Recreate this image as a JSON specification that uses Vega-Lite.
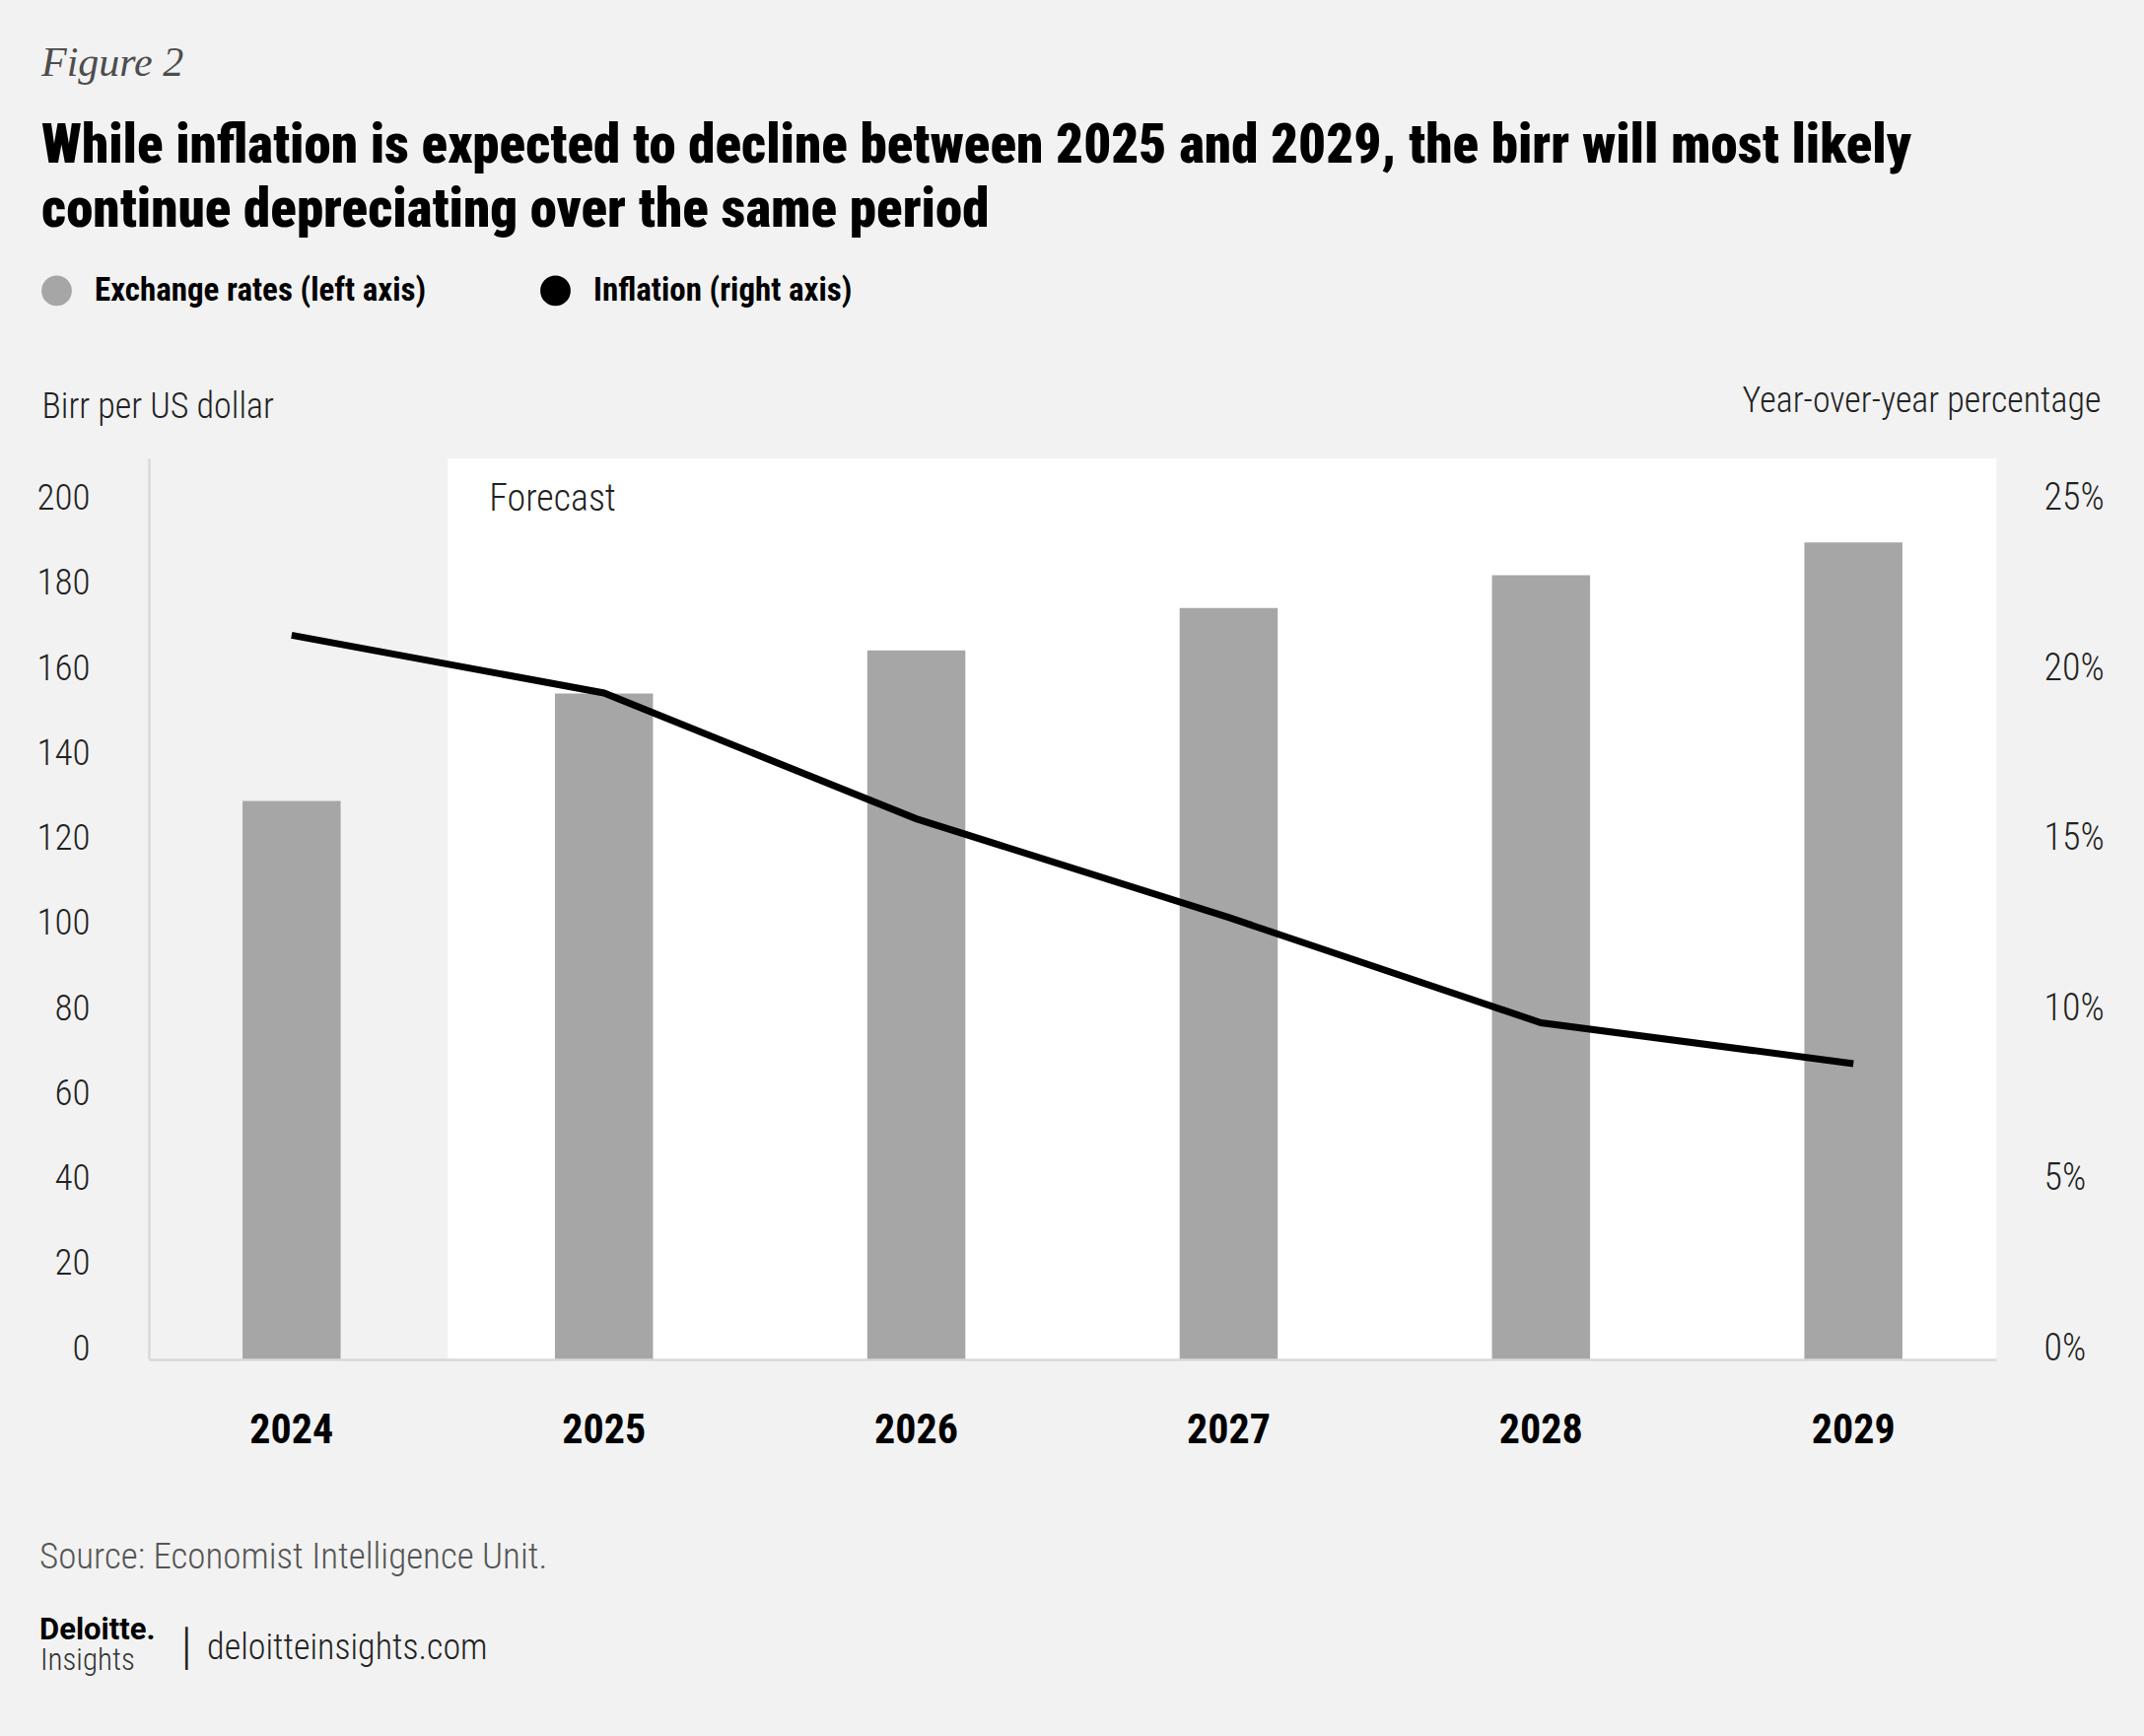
{
  "$schema": "https://vega.github.io/schema/vega-lite/v6.json",
  "width": 1874,
  "height": 914,
  "autosize": {"type": "none"},
  "padding": {"left": 151, "top": 465, "right": 150, "bottom": 382},
  "background": "#f2f2f2",
  "title": {
    "text": "Figure 2",
    "subtitle": ["While inflation is expected to decline between 2025 and 2029, the birr will most likely", "continue depreciating over the same period"],
    "anchor": "start",
    "frame": "group",
    "orient": "top",
    "dx": -109,
    "offset": 36,
    "font": "Liberation Serif",
    "fontStyle": "italic",
    "fontWeight": "normal",
    "fontSize": 42,
    "color": "#4d4d4d",
    "subtitleFont": "Roboto Condensed",
    "subtitleFontWeight": 900,
    "subtitleFontSize": 55,
    "subtitleColor": "#000000",
    "subtitleLineHeight": 65,
    "subtitlePadding": 36
  },
  "config": {
    "view": {"stroke": null},
    "axis": {"grid": false, "ticks": false},
    "axisY": {"domain": false, "labels": false, "titleAngle": 0},
    "axisX": {
      "labelFont": "Roboto Condensed",
      "labelFontSize": 42,
      "labelFontWeight": "bold",
      "labelColor": "#000000",
      "labelPadding": 51,
      "labelAngle": 0,
      "domainColor": "#d9d9d9",
      "domainWidth": 2.5,
      "titleX": -111.5,
      "titleY": 211,
      "titleAlign": "left",
      "titleAnchor": null,
      "titleBaseline": "alphabetic",
      "titleFont": "Roboto Condensed",
      "titleFontSize": 37,
      "titleFontWeight": 300,
      "titleColor": "#555555"
    },
    "legend": {
      "orient": "none",
      "legendX": -110,
      "legendY": -187,
      "direction": "horizontal",
      "symbolType": "circle",
      "symbolSize": 855,
      "labelFont": "Roboto Condensed",
      "labelFontSize": 33,
      "labelFontWeight": "bold",
      "labelColor": "#000000",
      "labelOffset": 22,
      "labelLimit": 1000,
      "columnPadding": 112,
      "padding": 0,
      "titleOrient": "bottom",
      "titleAnchor": "start",
      "titleAlign": "left",
      "titleBaseline": "alphabetic",
      "titlePadding": 1381,
      "titleFont": "Roboto Condensed",
      "titleFontSize": 31,
      "titleFontWeight": 300,
      "titleColor": "#333333",
      "titleLimit": 1000
    }
  },
  "layer": [
    {
      "data": {"values": [{"year": "2025", "year_end": "2029", "period": "Forecast"}]},
      "mark": {"type": "rect", "fill": "#ffffff"},
      "encoding": {
        "x": {"field": "year", "type": "ordinal", "bandPosition": -1.092, "title": "Source: Economist Intelligence Unit."},
        "x2": {"field": "year_end", "bandPosition": 1.957},
        "y": {"datum": 0, "type": "quantitative", "scale": {"domain": [0, 1]},
          "axis": {"orient": "left", "title": "│  deloitteinsights.com", "titleX": 25, "titleY": 1217, "titleAlign": "left", "titleBaseline": "alphabetic", "titleFont": "Roboto Condensed", "titleFontWeight": 300, "titleFontSize": 36, "titleColor": "#222222"}},
        "y2": {"datum": 1}
      }
    },
    {
      "data": {"name": "series"},
      "mark": {"type": "bar", "color": "#a6a6a6"},
      "encoding": {
        "x": {"field": "year", "type": "ordinal", "scale": {"paddingInner": 0.686, "paddingOuter": 0.3}, "title": "Source: Economist Intelligence Unit."},
        "y": {"field": "rate", "type": "quantitative", "scale": {"domain": [0, 212], "nice": false},
          "axis": {"orient": "left", "values": [0, 20, 40, 60, 80, 100, 120, 140, 160, 180, 200], "labels": true, "domain": true, "domainColor": "#d9d9d9", "domainWidth": 2.5, "labelBaseline": "alphabetic", "labelAlign": "right", "labelPadding": 60, "labelFont": "Roboto Condensed", "labelFontWeight": 300, "labelFontSize": 37, "labelColor": "#222222",
            "title": "Birr per US dollar", "titleX": -109, "titleY": -53, "titleAlign": "left", "titleBaseline": "middle", "titleFont": "Roboto Condensed", "titleFontSize": 36, "titleFontWeight": 300, "titleColor": "#222222"}},
        "color": {"datum": "Exchange rates (left axis)", "type": "nominal",
          "scale": {"domain": ["Exchange rates (left axis)", "Inflation (right axis)"], "range": ["#a6a6a6", "#000000"]},
          "legend": {"title": "Insights", "symbolType": "circle", "encode": {"symbols": {"update": {"fill": {"scale": "color", "field": "value"}, "stroke": {"value": "transparent"}, "opacity": {"value": 1}}}}}}
      }
    },
    {
      "data": {"name": "series"},
      "mark": {"type": "line", "color": "#000000", "strokeWidth": 7, "strokeCap": "butt"},
      "encoding": {
        "x": {"field": "year", "type": "ordinal", "title": "Source: Economist Intelligence Unit."},
        "y": {"field": "inflation", "type": "quantitative", "scale": {"domain": [0, 26.5], "nice": false},
          "axis": {"orient": "right", "values": [0, 5, 10, 15, 20, 25], "labels": true, "labelExpr": "datum.value + '%'", "labelBaseline": "alphabetic", "labelAlign": "left", "labelPadding": 48, "labelFont": "Roboto Condensed", "labelFontWeight": 300, "labelFontSize": 38, "labelColor": "#222222",
            "title": "Year-over-year percentage", "titleX": 106, "titleY": -59, "titleAlign": "right", "titleBaseline": "middle", "titleFont": "Roboto Condensed", "titleFontSize": 36, "titleFontWeight": 300, "titleColor": "#222222"}},
        "color": {"datum": "Inflation (right axis)", "type": "nominal",
          "legend": {"title": "Insights", "symbolType": "circle", "encode": {"symbols": {"update": {"fill": {"scale": "color", "field": "value"}, "stroke": {"value": "transparent"}, "opacity": {"value": 1}}}}}}
      }
    },
    {
      "data": {"values": [{"year": "2025", "label": "Forecast"}]},
      "mark": {"type": "text", "align": "left", "baseline": "middle", "dx": 42, "dy": 42, "font": "Roboto Condensed", "fontWeight": 300, "fontSize": 38, "color": "#222222"},
      "encoding": {
        "x": {"field": "year", "type": "ordinal", "bandPosition": -1.092, "title": "Source: Economist Intelligence Unit."},
        "y": {"datum": 1, "type": "quantitative", "scale": {"domain": [0, 1]},
          "axis": {"orient": "left", "title": "Deloitte.", "titleX": -111.5, "titleY": 1197, "titleAlign": "left", "titleBaseline": "alphabetic", "titleFont": "Roboto", "titleFontWeight": "bold", "titleFontSize": 31, "titleColor": "#000000"}},
        "text": {"field": "label"}
      }
    }
  ],
  "datasets": {
    "series": [
      {"year": "2024", "rate": 131.4, "inflation": 21.3},
      {"year": "2025", "rate": 156.7, "inflation": 19.6},
      {"year": "2026", "rate": 166.8, "inflation": 15.9},
      {"year": "2027", "rate": 176.8, "inflation": 13.0},
      {"year": "2028", "rate": 184.5, "inflation": 9.9},
      {"year": "2029", "rate": 192.2, "inflation": 8.7}
    ]
  },
  "resolve": {"scale": {"y": "independent"}}
}
